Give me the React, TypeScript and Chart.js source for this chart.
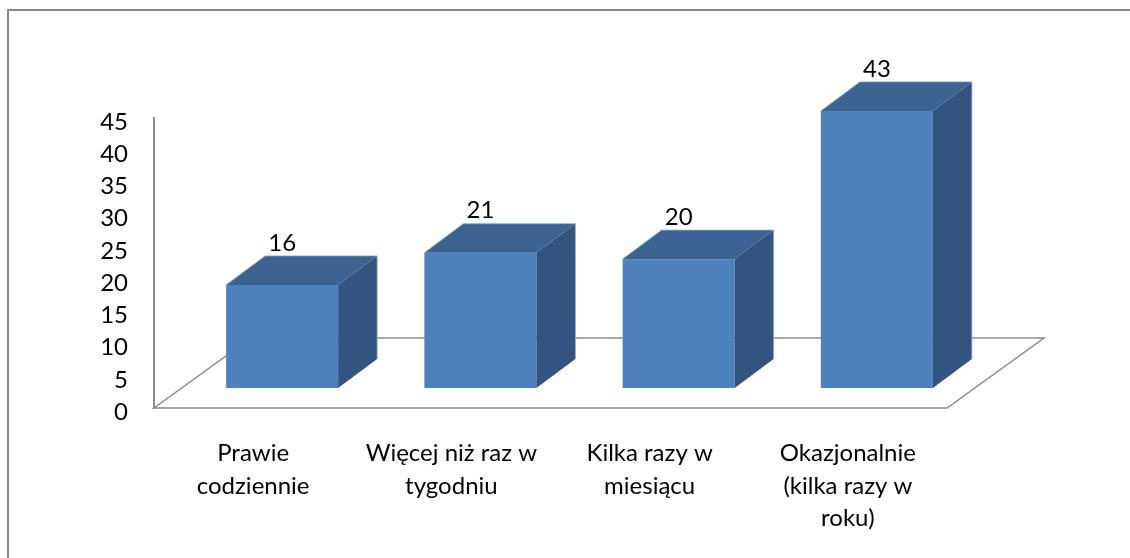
import React, { useEffect, useRef } from "react";
import { Chart, registerables } from "chart.js";

Chart.register(...registerables);

const categories: string[][] = [
  ["Prawie", "codziennie"],
  ["Więcej niż raz w", "tygodniu"],
  ["Kilka razy w", "miesiącu"],
  ["Okazjonalnie", "(kilka razy w", "roku)"],
];
const values: number[] = [16, 21, 20, 43];
const yMin = 0;
const yMax = 45;
const yStep = 5;

const FONT = "Lato, 'Open Sans', sans-serif";
const FONT_SIZE = 24;

// 3D projection offsets (pixels)
const FLOOR_DX = 97;
const FLOOR_DY = 70;
const FRONT_DX = 29;
const FRONT_DY = 20;
const BAR_DX = 39;
const BAR_DY = 29;

const frontColor = "#4F81BD";
const topColor = "#3D6392";
const sideColor = "#33547E";
const edgeColor = "rgba(140,170,210,0.8)";
const lineGray = "#8C8C8C";

const frame3d = {
  id: "frame3d",
  beforeDraw(chart: any) {
    const { ctx } = chart;
    ctx.save();
    ctx.strokeStyle = "#878787";
    ctx.lineWidth = 2;
    ctx.beginPath();
    ctx.moveTo(8, 560);
    ctx.lineTo(8, 10);
    ctx.lineTo(1132, 10);
    ctx.stroke();
    ctx.restore();
  },
  beforeDatasetsDraw(chart: any) {
    const { ctx, chartArea: a } = chart;
    ctx.save();
    ctx.strokeStyle = lineGray;
    ctx.lineWidth = 1.5;
    ctx.beginPath();
    ctx.moveTo(a.left, a.bottom);
    ctx.lineTo(a.right, a.bottom);
    ctx.lineTo(a.right + FLOOR_DX, a.bottom - FLOOR_DY);
    ctx.lineTo(a.left + FLOOR_DX, a.bottom - FLOOR_DY);
    ctx.closePath();
    ctx.stroke();
    ctx.restore();
  },
  afterDatasetsDraw(chart: any) {
    const { ctx } = chart;
    const meta = chart.getDatasetMeta(0);
    const ys = chart.scales.y;
    const data = chart.data.datasets[0].data as number[];
    meta.data.forEach((el: any, i: number) => {
      const { x, width } = el.getProps(["x", "width"], true);
      const v = data[i];
      const l = x - width / 2 + FRONT_DX;
      const r = x + width / 2 + FRONT_DX;
      const b = ys.getPixelForValue(0) - FRONT_DY;
      const t = ys.getPixelForValue(v) - FRONT_DY;
      ctx.save();
      // front
      ctx.fillStyle = frontColor;
      ctx.fillRect(l, t, r - l, b - t);
      // top
      ctx.fillStyle = topColor;
      ctx.beginPath();
      ctx.moveTo(l, t);
      ctx.lineTo(r, t);
      ctx.lineTo(r + BAR_DX, t - BAR_DY);
      ctx.lineTo(l + BAR_DX, t - BAR_DY);
      ctx.closePath();
      ctx.fill();
      // side
      ctx.fillStyle = sideColor;
      ctx.beginPath();
      ctx.moveTo(r, t);
      ctx.lineTo(r + BAR_DX, t - BAR_DY);
      ctx.lineTo(r + BAR_DX, b - BAR_DY);
      ctx.lineTo(r, b);
      ctx.closePath();
      ctx.fill();
      // subtle edges
      ctx.strokeStyle = edgeColor;
      ctx.lineWidth = 1;
      ctx.beginPath();
      ctx.moveTo(l, t);
      ctx.lineTo(l + BAR_DX, t - BAR_DY);
      ctx.lineTo(r + BAR_DX, t - BAR_DY);
      ctx.lineTo(r + BAR_DX, b - BAR_DY);
      ctx.stroke();
      // label
      ctx.fillStyle = "#000";
      ctx.font = `${FONT_SIZE}px ${FONT}`;
      ctx.textAlign = "center";
      ctx.textBaseline = "middle";
      ctx.fillText(String(v), (l + r) / 2, t - 42);
      ctx.restore();
    });
  },
};

export default function App() {
  const ref = useRef<HTMLCanvasElement | null>(null);
  useEffect(() => {
    if (!ref.current) return;
    const chart = new Chart(ref.current, {
      type: "bar",
      data: {
        labels: categories,
        datasets: [
          {
            data: values,
            backgroundColor: "rgba(0,0,0,0)",
            borderWidth: 0,
            barPercentage: 0.565,
            categoryPercentage: 1,
          },
        ],
      },
      options: {
        responsive: false,
        animation: false,
        events: [],
        layout: { padding: { left: 0, top: 118, right: 183, bottom: 0 } },
        plugins: { legend: { display: false }, tooltip: { enabled: false } },
        scales: {
          x: {
            offset: true,
            grid: { display: false, drawTicks: false },
            border: { display: false },
            ticks: {
              color: "#000",
              font: { family: FONT, size: FONT_SIZE, lineHeight: 1.36 },
              padding: 29,
              maxRotation: 0,
              autoSkip: false,
            },
            afterFit: (s: any) => {
              s.height = 150;
            },
          },
          y: {
            min: yMin,
            max: yMax,
            grid: { display: false, drawTicks: false },
            border: { display: true, color: lineGray, width: 2 },
            ticks: {
              stepSize: yStep,
              color: "#000",
              font: { family: FONT, size: FONT_SIZE },
              padding: 26,
              labelOffset: 4,
            },
            afterFit: (s: any) => {
              s.width = 154;
            },
          },
        },
      },
      plugins: [frame3d],
    });
    return () => chart.destroy();
  }, []);
  return (
    <div style={{ position: "absolute", left: 0, top: 0, width: 1130, height: 558, background: "#fff" }}>
      <canvas ref={ref} width={1130} height={558} style={{ display: "block" }} />
    </div>
  );
}
